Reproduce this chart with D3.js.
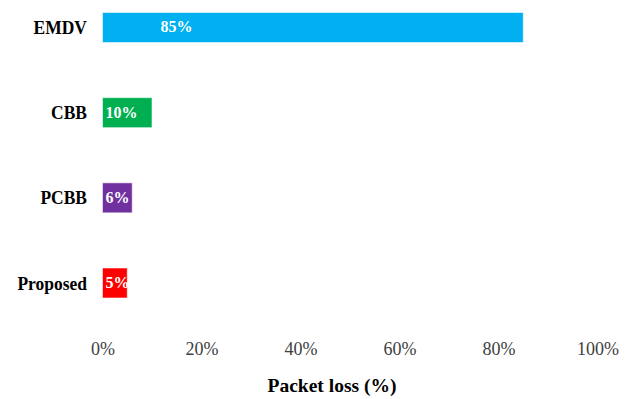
<!DOCTYPE html>
<html>
<head>
<meta charset="utf-8">
<script src="https://cdn.jsdelivr.net/npm/d3@7"></script>
<style>
  html, body { margin: 0; padding: 0; background: #fff; }
  svg { display: block; }
</style>
</head>
<body>
<svg id="chart" width="632" height="399"></svg>
<script>
// Packet loss per scheme
const categories = ["EMDV", "CBB", "PCBB", "Proposed"];
const packetLoss = [85, 10, 6, 5];
const barColors = ["#00B0F0", "#00B050", "#7030A0", "#FF0000"];
const tickValues = [0, 20, 40, 60, 80, 100];
const axisTitle = "Packet loss (%)";

const svg = d3.select("#chart");
const serif = "'Liberation Serif', 'Times New Roman', serif";

const x = d3.scaleLinear().domain([0, 100]).range([102.5, 597.5]);
const y = d3.scaleBand()
  .domain(categories)
  .range([12.5, 298])
  .paddingInner(0.6478)
  .paddingOuter(0);

const data = categories.map((c, i) => ({ name: c, value: packetLoss[i], color: barColors[i] }));

// Bars
svg.append("g").selectAll("rect")
  .data(data)
  .join("rect")
  .attr("x", x(0))
  .attr("y", d => y(d.name))
  .attr("width", d => x(d.value) - x(0))
  .attr("height", y.bandwidth())
  .attr("fill", d => d.color)
  .attr("stroke", "rgba(255,255,255,0.55)")
  .attr("stroke-width", 1);

// Value labels inside the bars
svg.append("g").selectAll("text")
  .data(data)
  .join("text")
  .attr("x", d => x(0) + (d.value > 50 ? 58 : 3))
  .attr("y", d => y(d.name) + y.bandwidth() / 2 + 5)
  .attr("fill", "#fff")
  .attr("font-family", serif)
  .attr("font-weight", "bold")
  .attr("font-size", 16)
  .text(d => d.value + "%");

// Category labels (left axis, no line)
const yAxis = d3.axisLeft(y).tickSize(0).tickPadding(0);
const yg = svg.append("g").attr("transform", "translate(87,0)").call(yAxis);
yg.select(".domain").remove();
yg.selectAll(".tick text")
  .attr("x", 0)
  .attr("dy", null)
  .attr("y", 6.5)
  .attr("text-anchor", "end")
  .attr("fill", "#000")
  .attr("font-family", serif)
  .attr("font-weight", "bold")
  .attr("font-size", 19)
  .attr("transform", "scale(0.92,1)");

// Percentage axis (labels only)
const xAxis = d3.axisBottom(x)
  .tickValues(tickValues)
  .tickFormat(d => d + "%")
  .tickSize(0)
  .tickPadding(0);
const xg = svg.append("g").attr("transform", "translate(0,355)").call(xAxis);
xg.select(".domain").remove();
xg.selectAll(".tick text")
  .attr("y", 0)
  .attr("dy", null)
  .attr("fill", "#404040")
  .attr("font-family", serif)
  .attr("font-size", 18);

// Axis title
svg.append("text")
  .attr("x", 332)
  .attr("y", 392)
  .attr("text-anchor", "middle")
  .attr("fill", "#000")
  .attr("font-family", serif)
  .attr("font-weight", "bold")
  .attr("font-size", 19.5)
  .text(axisTitle);
</script>
</body>
</html>
